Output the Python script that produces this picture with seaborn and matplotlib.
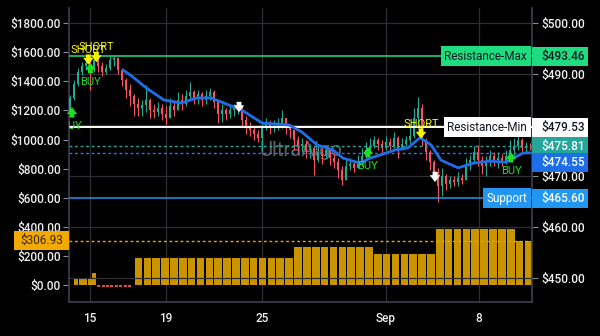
import numpy as np
import matplotlib
matplotlib.use("Agg")
import matplotlib.pyplot as plt
import matplotlib.transforms as mtrans
from matplotlib.patches import Rectangle
import seaborn as sns

# ---------------- data ----------------
first_open = 482.2
closes = [485.3, 488.0, 490.4, 491.6, 492.2, 490.8, 492.8, 491.6, 490.4, 491.2,
          492.8, 493.1, 490.8, 488.8, 486.9, 485.7, 484.1, 483.3, 483.9, 484.9,
          482.9, 482.6, 483.3, 482.2, 481.4, 483.7, 482.9, 484.9, 484.1, 485.7,
          486.5, 485.3, 486.1, 484.9, 485.7, 486.5, 484.5, 482.2, 482.9, 482.2,
          482.9, 483.3, 483.7, 481.0, 479.8, 479.0, 478.2, 477.5, 479.4, 480.2,
          479.4, 479.8, 480.2, 481.4, 479.4, 479.0, 477.1, 475.9, 476.3, 475.1,
          475.5, 473.1, 474.7, 473.9, 475.1, 473.5, 472.8, 471.2, 469.2, 472.0,
          472.4, 471.6, 472.8, 473.9, 475.1, 475.9, 477.1, 476.3, 475.5, 476.7,
          475.9, 477.5, 475.1, 476.3, 477.1, 477.8, 481.4, 483.3, 477.1, 474.7,
          472.8, 470.8, 468.0, 470.0, 468.4, 469.2, 468.8, 469.6, 469.2, 472.0,
          473.1, 474.7, 473.1, 472.0, 472.8, 473.9, 473.1, 473.5, 472.8, 473.9,
          475.1, 475.9, 477.1, 475.5, 475.9, 475.81]
highs = [485.9, 488.8, 491.2, 492.4, 493.1, 492.8, 493.7, 493.3, 492.4, 492.0,
         493.5, 493.5, 493.3, 491.2, 489.2, 488.0, 486.1, 485.3, 484.9, 487.8,
         485.3, 484.1, 484.5, 484.1, 483.7, 485.3, 484.9, 486.5, 486.1, 486.9,
         488.4, 486.9, 486.9, 486.5, 486.9, 487.3, 486.9, 484.9, 484.1, 483.3,
         483.7, 484.1, 484.1, 483.7, 481.8, 480.6, 479.8, 479.0, 480.6, 481.4,
         481.0, 481.0, 481.4, 482.9, 481.0, 480.2, 479.0, 477.8, 477.5, 477.1,
         476.3, 475.9, 475.9, 475.5, 476.1, 475.5, 474.7, 473.5, 472.0, 473.1,
         473.5, 473.1, 474.1, 475.5, 476.7, 477.5, 477.8, 477.5, 477.1, 477.8,
         477.5, 478.6, 477.8, 477.5, 477.8, 479.8, 483.3, 485.5, 484.1, 477.5,
         475.1, 473.1, 471.6, 471.6, 470.4, 470.0, 470.0, 470.8, 470.4, 473.5,
         474.1, 475.9, 476.1, 473.9, 473.9, 475.1, 474.7, 474.7, 474.3, 475.1,
         477.1, 477.5, 480.0, 477.5, 476.7, 476.5]
lows = [481.8, 484.9, 487.7, 489.8, 490.8, 486.9, 490.4, 490.4, 489.6, 490.0,
        490.8, 491.6, 490.0, 487.7, 485.3, 483.7, 481.8, 481.8, 481.8, 482.6,
        481.4, 481.4, 481.8, 481.0, 480.0, 482.2, 481.8, 483.3, 482.9, 483.7,
        484.9, 484.1, 484.1, 483.7, 484.1, 484.9, 483.3, 480.4, 480.6, 481.0,
        481.4, 481.8, 482.2, 479.8, 478.2, 477.8, 477.1, 476.7, 475.1, 479.0,
        478.2, 478.6, 479.0, 479.4, 478.2, 477.5, 475.1, 474.7, 474.7, 473.5,
        473.5, 470.2, 472.8, 472.4, 473.5, 472.2, 471.6, 469.6, 468.2, 469.6,
        471.2, 470.8, 471.6, 472.0, 473.5, 474.7, 475.5, 475.1, 474.3, 475.1,
        474.7, 475.5, 473.5, 475.1, 475.9, 476.3, 477.5, 479.4, 475.9, 473.1,
        471.2, 469.6, 464.9, 466.1, 467.3, 467.7, 468.0, 468.0, 468.4, 470.0,
        471.2, 472.8, 472.0, 470.4, 470.0, 472.0, 472.0, 471.6, 472.0, 472.4,
        473.5, 473.9, 475.1, 474.7, 474.7, 475.1]

ma_idx = [13.25, 15.75, 19, 23.5, 27.75, 31.75, 35.25, 38.5, 43, 48, 54.75, 58,
          61.75, 65.75, 68.25, 72.5, 75, 77.5, 81.25, 84.5, 87.5, 90.25, 92.75,
          97, 100.75, 104.75, 109, 113.25, 115]
ma_val = [490.8, 489.4, 487.3, 484.9, 484.3, 485.3, 485.3, 484.3, 482.9, 480.4,
          480.0, 478.6, 476.1, 475.1, 473.5, 472.5, 473.5, 474.1, 475.1, 475.5,
          477.5, 476.1, 473.1, 471.6, 472.5, 472.9, 472.7, 474.5, 474.55]

early_vals = [2, 52, 52, 52, 52, 87, -9, -9, -9, -9, -9, -9, -9, -9]
bar_vals = [190, 190, 190, 190, 190, 190, 190, 190, 190, 190, 190, 190, 190, 190,
            190, 190, 190, 190, 264, 264, 264, 264, 264, 264, 264, 264, 264,
            216, 216, 216, 216, 216, 216, 216, 388, 388, 388, 388, 388, 388,
            388, 388, 388, 306.93, 306.93]

date_pos = [5, 24, 48, 79, 102.25]
date_labels = ["15", "19", "25", "Sep", "8"]

sig_idx = [0.5, 4.6, 6.6, 5.1, 42.25, 74.5, 87.75, 91.25, 110.25]
sig_price = [483.5, 491.8, 492.3, 492.2, 482.5, 475.7, 477.3, 468.8, 474.7]
sig_kind = ["BUY", "SHORT", "SHORT", "BUY", "EXIT", "BUY", "SHORT", "EXIT", "BUY"]

res_max = 493.46
res_min = 479.53
last_price = 475.81
ma_last = 474.55
support = 465.60
left_level = 306.93

# ---------------- style ----------------
sns.set_theme(style="dark", rc={"axes.facecolor": "black", "figure.facecolor": "black"})
plt.rcParams["font.family"] = ["Roboto", "DejaVu Sans"]

BG = "#000000"
GRID = "#2e2e34"
SPINE = "#3a3d4e"
TXT = "#f0f0f0"
UP = "#22ab94"
DOWN = "#f7525f"
GOLD = "#c99400"
FW = 500

fig = plt.figure(figsize=(6, 3.36), dpi=100, facecolor=BG)
ax = fig.add_axes([69 / 600, 34 / 336, 463 / 600, 294 / 336])
ax.set_facecolor(BG)
ax2 = ax.twinx()

ax.set_xlim(-0.25, 115.5)
ax.set_ylim(-114.6, 1903)
ax2.set_ylim(445.29, 502.94)
AX_H = 294.0
AX_W = 463.0


def px2d(axis, px):
    y0, y1 = axis.get_ylim()
    return px * (y1 - y0) / AX_H


# ---------------- lower bars (left axis) ----------------
bar_x = 17.11 + 2.216 * np.arange(len(bar_vals))
ax.bar(bar_x, bar_vals, width=1.9, color=GOLD, linewidth=0, zorder=2)
early_x = 0.5 + 1.108 * np.arange(len(early_vals))
early_cols = [GOLD if v > 0 else "#e0484f" for v in early_vals]
early_w = [1.0 if v > 0 else 0.75 for v in early_vals]
ax.bar(early_x, early_vals, width=early_w, color=early_cols, linewidth=0, zorder=2)
ax.axhline(left_level, color="#f0a500", lw=1.0, ls=(0, (2, 2)), zorder=3)

# ---------------- candles (right axis) ----------------
c = np.array(closes)
o = np.r_[first_open, c[:-1]]
h = np.maximum(np.array(highs), np.maximum(o, c))
l = np.minimum(np.array(lows), np.minimum(o, c))
cx = np.arange(len(c))
cols = np.where(c >= o, UP, DOWN)
ax2.vlines(cx, l, h, colors=cols, lw=0.8, zorder=3)
ax2.bar(cx, np.maximum(np.abs(c - o), 0.12), bottom=np.minimum(o, c), width=0.55,
        color=cols, linewidth=0, zorder=4)

sns.lineplot(x=ma_idx, y=ma_val, ax=ax2, color="#1e6ee8", lw=2.0, zorder=6)

# horizontal levels
ax2.axhline(res_max, color="#1fe07e", lw=1.1, zorder=5)
ax2.axhline(res_min, color="#ffffff", lw=1.4, zorder=5)
ax2.axhline(last_price, color="#26a69a", lw=1.0, ls=(0, (2, 2)), zorder=5)
ax2.axhline(ma_last, color="#2979ff", lw=1.0, ls=(0, (2, 2)), zorder=5)
ax2.axhline(support, color="#2196f3", lw=1.1, zorder=5)

# signals
for x, p, k in zip(sig_idx, sig_price, sig_kind):
    if k == "BUY":
        col, tail, lab_off = "#1ee01e", -7.5, -13.7
    elif k == "SHORT":
        col, tail, lab_off = "#f5f500", 7.5, 10.8
    else:
        col, tail, lab_off = "#ffffff", 7.5, None
    ax2.annotate("", xy=(x, p), xytext=(0, tail), textcoords="offset points",
                 arrowprops=dict(arrowstyle="simple,head_length=0.5,head_width=0.75,tail_width=0.35",
                                 fc=col, ec="none", shrinkA=0, shrinkB=0, mutation_scale=10),
                 zorder=8)
    if lab_off is not None:
        ax2.annotate(k, xy=(x, p), xytext=(0, lab_off), textcoords="offset points",
                     ha="center", va="center", color=col, fontsize=8, zorder=8,
                     clip_on=True, annotation_clip=False)

# watermark
ax.text(0.501, 0.517, "UltraAlgo", transform=ax.transAxes, fontsize=14.5, color="#7c7c7c",
        alpha=0.8, ha="center", va="center", zorder=4)

# ---------------- axes styling ----------------
ax.set_xticks(date_pos)
ax.set_xticklabels(date_labels, fontweight=FW)
ax.tick_params(axis="x", length=0, pad=7, labelsize=8.5, labelcolor=TXT, bottom=True)
ax.grid(axis="x", color=GRID, lw=0.9)
ax.grid(axis="y", visible=False)

lt = list(range(0, 1801, 200))
ax.set_yticks(lt)
ax.set_yticklabels([f"${v:.2f}" for v in lt], fontweight=FW)
ax.tick_params(axis="y", left=True, length=4, width=0.8, color="#8a8d99", pad=2,
               labelsize=8.5, labelcolor=TXT)

rt = list(range(450, 501, 10))
ax2.set_yticks(rt)
ax2.set_yticklabels([f"${v:.2f}" for v in rt], fontweight=FW)
ax2.tick_params(axis="y", right=True, length=4, width=0.8, color="#8a8d99", pad=3,
                labelsize=8.5, labelcolor=TXT)
ax2.grid(axis="y", color=GRID, lw=0.9)
ax2.set_ylabel("")
ax.set_ylabel("")

for a in (ax, ax2):
    for s in a.spines.values():
        s.set_visible(False)
ax.spines["left"].set_visible(True)
ax.spines["left"].set_color(SPINE)
ax.spines["bottom"].set_visible(True)
ax.spines["bottom"].set_color(SPINE)
ax2.spines["right"].set_visible(True)
ax2.spines["right"].set_color(SPINE)

# ---------------- price tags ----------------
trR = mtrans.blended_transform_factory(ax2.transAxes, ax2.transData)
trL = mtrans.blended_transform_factory(ax.transAxes, ax.transData)


def right_tag(y, text, bg, fg, shift_px=0.0):
    hh = px2d(ax2, 19)
    yc = y - px2d(ax2, shift_px)
    ax2.add_patch(Rectangle((1.0, yc - hh / 2), 56 / AX_W, hh, transform=trR, facecolor=bg,
                            edgecolor="none", clip_on=False, zorder=20))
    ax2.text(1 + 9 / AX_W, yc, text, transform=trR, color=fg, ha="left", va="center",
             fontsize=8.5, fontweight=FW, clip_on=False, zorder=21)


def name_tag(y, text, bg, fg):
    ax2.text((527 - 69) / AX_W, y, text, transform=trR, color=fg, ha="right", va="center",
             fontsize=8.5, zorder=21,
             bbox=dict(boxstyle="square,pad=0.3", fc=bg, ec="none"))


name_tag(res_max, "Resistance-Max", "#1fdc80", "#131722")
name_tag(res_min, "Resistance-Min", "#ffffff", "#131722")
name_tag(support, "Support", "#2196f3", "#ffffff")
right_tag(res_max, f"${res_max:.2f}", "#1fdc80", "#131722")
right_tag(res_min, f"${res_min:.2f}", "#ffffff", "#131722")
right_tag(last_price, f"${last_price:.2f}", "#26a69a", "#ffffff")
right_tag(ma_last, f"${ma_last:.2f}", "#1e6ee8", "#ffffff", shift_px=10)
right_tag(support, f"${support:.2f}", "#2196f3", "#ffffff")

hl = px2d(ax, 19)
ax.add_patch(Rectangle((-55 / AX_W, left_level - hl / 2), 55 / AX_W, hl, transform=trL,
                       facecolor="#f2a900", edgecolor="none", clip_on=False, zorder=20))
ax.text(-27.5 / AX_W, left_level, f"${left_level:.2f}", transform=trL, color="#3a2a00",
        ha="center", va="center", fontsize=8.5, clip_on=False, zorder=21)

fig.savefig("out.png", dpi=100, facecolor=BG)
